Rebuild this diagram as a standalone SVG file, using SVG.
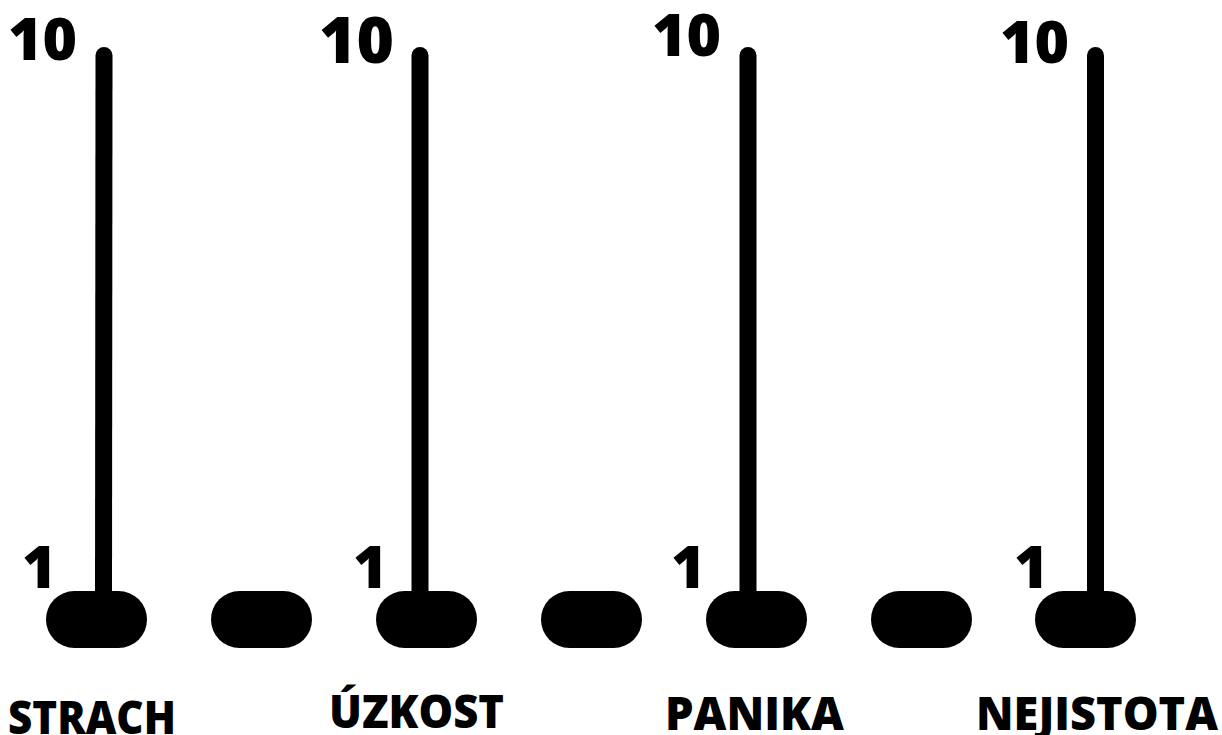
<svg xmlns="http://www.w3.org/2000/svg" width="1222" height="735" viewBox="0 0 1222 735">
  <style>
    .num { font-family: "Open Sans", "Liberation Sans", sans-serif; font-weight: 800; font-size: 59px; fill: #000; }
    .lbl { font-family: "Open Sans", "Liberation Sans", sans-serif; font-weight: 800; font-size: 46px; fill: #000; }
    .stem { stroke: #000; stroke-width: 17; stroke-linecap: round; fill: none; }
    .pill { fill: #000; }
  </style>
  <rect width="1222" height="735" fill="#fff"/>

  <!-- vertical scales -->
  <g id="connectors">
    <line class="stem" x1="104" y1="55.5" x2="103.5" y2="600"/>
    <line class="stem" x1="420" y1="55.5" x2="420" y2="600"/>
    <line class="stem" x1="748" y1="55.5" x2="748" y2="600"/>
    <line class="stem" x1="1095.5" y1="55.5" x2="1095.5" y2="600"/>
  </g>

  <!-- row of rounded markers -->
  <g id="markers">
    <rect class="pill" x="46" y="591" width="101" height="57" rx="28.5"/>
    <rect class="pill" x="211" y="591" width="101" height="57" rx="28.5"/>
    <rect class="pill" x="376" y="591" width="101" height="57" rx="28.5"/>
    <rect class="pill" x="541" y="591" width="101" height="57" rx="28.5"/>
    <rect class="pill" x="706" y="591" width="101" height="57" rx="28.5"/>
    <rect class="pill" x="871" y="591" width="101" height="57" rx="28.5"/>
    <rect class="pill" x="1035" y="591" width="101" height="57" rx="28.5"/>
  </g>

  <g id="scale-strach">
    <text class="num" x="8" y="60">10</text>
    <text class="num" x="22" y="588">1</text>
    <text class="lbl" x="8" y="734" textLength="168" lengthAdjust="spacingAndGlyphs">STRACH</text>
  </g>

  <g id="scale-uzkost">
    <text class="num" x="319" y="63" style="font-size:64px">10</text>
    <text class="num" x="353" y="588">1</text>
    <text class="lbl" x="329" y="728" textLength="175" lengthAdjust="spacingAndGlyphs">ÚZKOST</text>
  </g>

  <g id="scale-panika">
    <text class="num" x="652" y="56">10</text>
    <text class="num" x="671" y="588">1</text>
    <text class="lbl" x="665" y="730" textLength="179" lengthAdjust="spacingAndGlyphs">PANIKA</text>
  </g>

  <g id="scale-nejistota">
    <text class="num" x="1000" y="63">10</text>
    <text class="num" x="1014" y="588">1</text>
    <text class="lbl" x="976" y="730" textLength="242" lengthAdjust="spacingAndGlyphs">NEJISTOTA</text>
  </g>
</svg>
